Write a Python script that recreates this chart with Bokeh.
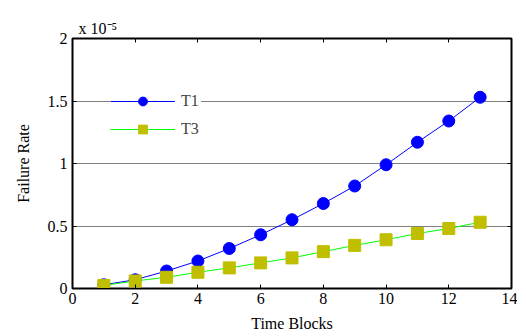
from bokeh.plotting import figure
from bokeh.models import LinearAxis, FixedTicker, Legend, LegendItem, Range1d
from bokeh.embed import file_html
from bokeh.resources import INLINE

time_blocks = [1, 2, 3, 4, 5, 6, 7, 8, 9, 10, 11, 12, 13]
t1_rate = [0.03, 0.07, 0.14, 0.22, 0.32, 0.43, 0.55, 0.68, 0.82, 0.99, 1.17, 1.34, 1.53]
t3_rate = [0.025, 0.06, 0.09, 0.13, 0.165, 0.205, 0.245, 0.295, 0.345, 0.39, 0.44, 0.48, 0.53]
x_ticks = [0, 2, 4, 6, 8, 10, 12, 14]
y_ticks = [0, 0.5, 1, 1.5, 2]
y_tick_labels = {0: "0", 0.5: "0.5", 1: "1", 1.5: "1.5", 2: "2"}
scale_text = "x 10\u207b\u2075"

FONT = "Liberation Serif"

p = figure(output_backend="svg", toolbar_location=None,
           frame_width=439, frame_height=250,
           min_border_left=72, min_border_top=38, min_border_bottom=46, min_border_right=6,
           x_range=Range1d(0, 14), y_range=Range1d(0, 2))
p.background_fill_color = "white"
p.border_fill_color = "white"
p.outline_line_color = "black"
p.outline_line_width = 2

p.title.text = scale_text
p.title.align = "left"
p.title.offset = 6
p.title.standoff = 4
p.title.text_font = FONT
p.title.text_font_size = "16px"
p.title.text_font_style = "normal"
p.title.text_color = "black"

p.xgrid.visible = False
p.ygrid.ticker = FixedTicker(ticks=[0.5, 1, 1.5])
p.ygrid.grid_line_color = "black"
p.ygrid.grid_line_dash = "1 1"
p.ygrid.grid_line_width = 1

def style_axis(ax):
    ax.major_tick_in = 4
    ax.major_tick_out = 0
    ax.minor_tick_line_color = None
    ax.axis_line_color = "black"
    ax.major_tick_line_color = "black"
    ax.major_label_text_font = FONT
    ax.major_label_text_font_size = "16px"
    ax.major_label_text_color = "black"
    ax.axis_label_text_font = FONT
    ax.axis_label_text_font_size = "16px"
    ax.axis_label_text_font_style = "normal"
    ax.axis_label_text_color = "black"

p.xaxis.ticker = FixedTicker(ticks=x_ticks)
p.yaxis.ticker = FixedTicker(ticks=y_ticks)
p.yaxis.major_label_overrides = y_tick_labels
p.xaxis.axis_label = "Time Blocks"
p.yaxis.axis_label = "Failure Rate"
style_axis(p.xaxis[0])
style_axis(p.yaxis[0])
p.xaxis.axis_label_standoff = 8
p.xaxis.major_label_standoff = 4
p.yaxis.axis_label_standoff = 13

top = LinearAxis(ticker=FixedTicker(ticks=x_ticks),
                 major_label_overrides={t: "" for t in x_ticks})
right = LinearAxis(ticker=FixedTicker(ticks=y_ticks),
                   major_label_overrides={t: "" for t in y_ticks})
style_axis(top)
style_axis(right)
top.major_label_standoff = 0
right.major_label_standoff = 0
p.add_layout(top, "above")
p.add_layout(right, "right")

l1 = p.line(time_blocks, t1_rate, line_color="blue", line_width=1)
s1 = p.scatter(time_blocks, t1_rate, marker="circle", size=12, fill_color="blue", line_color="blue")
l3 = p.line(time_blocks, t3_rate, line_color="#00ff00", line_width=1)
s3 = p.scatter(time_blocks, t3_rate, marker="square", size=12, fill_color="#bfbf00", line_color="#bfbf00")

legend = Legend(items=[LegendItem(label="T1", renderers=[l1, s1]),
                       LegendItem(label="T3", renderers=[l3, s3])],
                location=(38, 148), orientation="vertical",
                background_fill_color="white", background_fill_alpha=1,
                border_line_color=None,
                label_text_font=FONT, label_text_font_size="16px",
                glyph_width=65, glyph_height=22, spacing=6,
                padding=6, margin=0, label_standoff=6)
p.add_layout(legend, "center")

open("out.html", "w").write(file_html(p, INLINE))
